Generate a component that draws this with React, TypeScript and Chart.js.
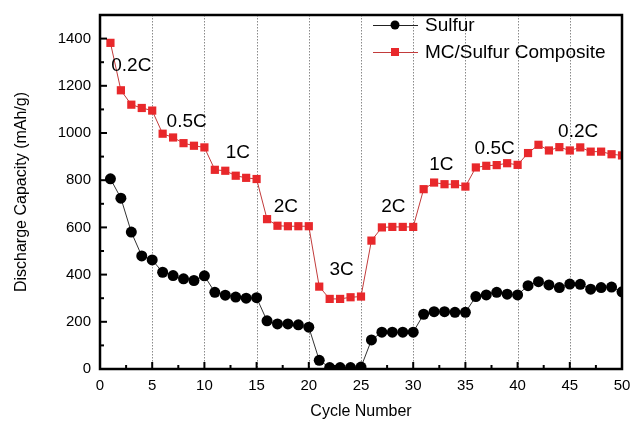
import React, { useEffect, useRef } from 'react';
import { Chart, registerables } from 'chart.js';
Chart.register(...registerables);

const cycles = [1,2,3,4,5,6,7,8,9,10,11,12,13,14,15,16,17,18,19,20,21,22,23,24,25,26,27,28,29,30,31,32,33,34,35,36,37,38,39,40,41,42,43,44,45,46,47,48,49,50];
const sulfur = [806,724,580,479,462,410,396,382,375,395,325,313,305,300,302,204,191,191,187,177,37,6,6,6,8,123,156,156,156,156,232,243,243,240,240,307,314,325,317,314,353,370,356,345,360,359,338,345,347,327];
const composite = [1382,1181,1120,1106,1095,997,981,957,946,939,844,840,819,810,805,635,607,605,605,605,349,297,297,304,307,544,600,602,602,602,762,790,783,783,773,854,861,864,872,865,915,950,926,940,926,939,921,921,910,905];

const rateLabels = ['0.2C','0.5C','1C','2C','3C','2C','1C','0.5C','0.2C'];
const rateLabelX = [3.0, 8.3, 13.2, 17.8, 23.15, 28.1, 32.7, 37.8, 45.8];
const rateLabelY = [1283, 1049, 915, 687, 419, 687, 867, 933, 1007];

const seriesNames = ['Sulfur', 'MC/Sulfur Composite'];
const gridX = [5,10,15,20,25,30,35,40,45];
const xMajor = [0,5,10,15,20,25,30,35,40,45,50];
const xMinor = [2.5,7.5,12.5,17.5,22.5,27.5,32.5,37.5,42.5,47.5];
const yMajor = [0,200,400,600,800,1000,1200,1400];
const yMinor = [100,300,500,700,900,1100,1300];

const FONT = "'Liberation Sans', Arial, sans-serif";

export default function App() {
  const ref = useRef<HTMLCanvasElement>(null);
  useEffect(() => {
    const canvas = ref.current!;
    const plugin = {
      id: 'deco',
      beforeDatasetsDraw(chart: any) {
        const { ctx, chartArea: a, scales: { x } } = chart;
        ctx.save();
        ctx.strokeStyle = '#8a8a8a';
        ctx.lineWidth = 1;
        ctx.setLineDash([1.5, 1.5]);
        for (const v of gridX) {
          const px = Math.round(x.getPixelForValue(v)) + 0.5;
          ctx.beginPath();
          ctx.moveTo(px, a.top);
          ctx.lineTo(px, a.bottom);
          ctx.stroke();
        }
        ctx.restore();
      },
      afterDatasetsDraw(chart: any) {
        const { ctx, chartArea: a, scales: { x, y } } = chart;
        ctx.save();
        ctx.strokeStyle = '#000';
        ctx.lineWidth = 2;
        for (const v of xMajor) {
          const px = x.getPixelForValue(v);
          ctx.beginPath(); ctx.moveTo(px, a.bottom); ctx.lineTo(px, a.bottom - 7); ctx.stroke();
        }
        for (const v of xMinor) {
          const px = x.getPixelForValue(v);
          ctx.beginPath(); ctx.moveTo(px, a.bottom); ctx.lineTo(px, a.bottom - 4); ctx.stroke();
        }
        for (const v of yMajor) {
          const py = y.getPixelForValue(v);
          ctx.beginPath(); ctx.moveTo(a.left, py); ctx.lineTo(a.left + 7, py); ctx.stroke();
        }
        for (const v of yMinor) {
          const py = y.getPixelForValue(v);
          ctx.beginPath(); ctx.moveTo(a.left, py); ctx.lineTo(a.left + 4, py); ctx.stroke();
        }
        ctx.lineWidth = 2.5;
        ctx.strokeRect(a.left, a.top, a.right - a.left, a.bottom - a.top);
        // rate annotations
        ctx.fillStyle = '#000';
        ctx.font = `19px ${FONT}`;
        ctx.textAlign = 'center';
        ctx.textBaseline = 'middle';
        rateLabels.forEach((t, i) => {
          ctx.fillText(t, x.getPixelForValue(rateLabelX[i]), y.getPixelForValue(rateLabelY[i]));
        });
        // legend
        const rows = [
          { name: seriesNames[0], line: '#222', fill: '#000', shape: 'circle', yy: a.top + 10 },
          { name: seriesNames[1], line: '#c23b3b', fill: '#e8282b', shape: 'rect', yy: a.top + 37 },
        ];
        const lx0 = a.left + 273, lx1 = a.left + 318, mx = a.left + 295;
        for (const r of rows) {
          ctx.strokeStyle = r.line;
          ctx.lineWidth = 1;
          ctx.beginPath(); ctx.moveTo(lx0, r.yy + 0.5); ctx.lineTo(lx1, r.yy + 0.5); ctx.stroke();
          ctx.fillStyle = r.fill;
          if (r.shape === 'circle') {
            ctx.beginPath(); ctx.arc(mx, r.yy, 4.5, 0, Math.PI * 2); ctx.fill();
          } else {
            ctx.fillRect(mx - 4, r.yy - 4, 8, 8);
          }
          ctx.fillStyle = '#000';
          ctx.textAlign = 'left';
          ctx.fillText(r.name, a.left + 325, r.yy + 1);
        }
        ctx.restore();
      },
    };
    const chart = new Chart(canvas, {
      type: 'line',
      data: {
        datasets: [
          {
            label: seriesNames[0],
            data: cycles.map((c, i) => ({ x: c, y: sulfur[i] })),
            borderColor: '#333',
            borderWidth: 1,
            backgroundColor: '#000',
            pointBackgroundColor: '#000',
            pointBorderColor: '#000',
            pointStyle: 'circle',
            pointRadius: 5.5,
            pointBorderWidth: 0,
            tension: 0,
          },
          {
            label: seriesNames[1],
            data: cycles.map((c, i) => ({ x: c, y: composite[i] })),
            borderColor: '#c23b3b',
            borderWidth: 1,
            backgroundColor: '#e8282b',
            pointBackgroundColor: '#e8282b',
            pointBorderColor: '#e8282b',
            pointStyle: 'rect',
            pointRadius: 5.8,
            pointBorderWidth: 0,
            tension: 0,
          },
        ],
      },
      options: {
        animation: false,
        responsive: true,
        maintainAspectRatio: false,
        layout: { padding: { top: 15, right: 8, left: 0, bottom: 0 } },
        plugins: { legend: { display: false }, tooltip: { enabled: false } },
        scales: {
          x: {
            type: 'linear',
            min: 0,
            max: 50,
            grid: { display: false, drawTicks: false },
            border: { display: false },
            ticks: { stepSize: 5, color: '#000', font: { family: FONT, size: 15 }, padding: 8, maxRotation: 0 },
            title: { display: true, text: 'Cycle Number', color: '#000', font: { family: FONT, size: 16 }, padding: { top: 0, bottom: 0 } },
            afterFit: (s: any) => { s.height = 52; s.paddingLeft = 0; s.paddingRight = 0; },
          },
          y: {
            type: 'linear',
            min: 0,
            max: 1500,
            grid: { display: false, drawTicks: false },
            border: { display: false },
            afterBuildTicks: (s: any) => { s.ticks = s.ticks.filter((t: any) => t.value % 200 === 0); },
            ticks: { stepSize: 200, color: '#000', font: { family: FONT, size: 15 }, padding: 9, callback: (v: any) => String(v) },
            title: { display: true, text: 'Discharge Capacity (mAh/g)', color: '#000', font: { family: FONT, size: 16 }, padding: { top: 12, bottom: 0 } },
            afterFit: (s: any) => { s.width = 100; s.paddingTop = 0; s.paddingBottom = 0; },
          },
        },
      },
      plugins: [plugin],
    });
    return () => chart.destroy();
  }, []);
  return (
    <div style={{ position: 'fixed', left: 0, top: 0, width: 630, height: 421, background: '#fff' }}>
      <canvas ref={ref} />
    </div>
  );
}
